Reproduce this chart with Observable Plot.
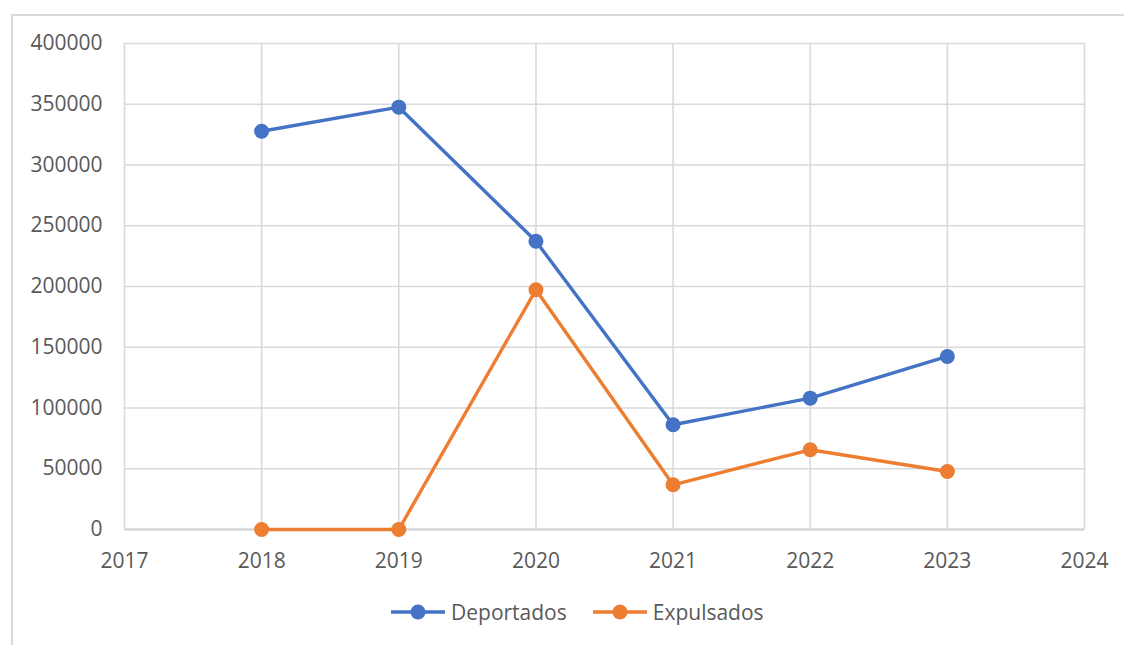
<!DOCTYPE html>
<html>
<head>
<meta charset="utf-8">
<script src="https://cdn.jsdelivr.net/npm/d3@7"></script>
<script src="https://cdn.jsdelivr.net/npm/@observablehq/plot@0.6"></script>
<style>
  html, body { margin: 0; padding: 0; background: #fff; }
  body { width: 1124px; height: 645px; overflow: hidden; position: relative; font-family: "Open Sans", "Liberation Sans", sans-serif; }
  #frame { position: absolute; left: 11px; top: 14px; width: 1113px; height: 640px; border-left: 2px solid #d9d9d9; border-top: 2px solid #d9d9d9; }
  #chart { position: absolute; left: 0; top: 0; }
  #legend { position: absolute; left: 0; top: 582px; width: 1111px; display: flex; justify-content: flex-start; gap: 25px; font-size: 21px; color: #595959; padding-left: 377px; box-sizing: border-box; }
  .item { display: flex; align-items: center; gap: 5px; }
</style>
</head>
<body>
<div id="frame">
  <div id="chart"></div>
  <div id="legend"></div>
</div>
<script>
const years = [2018, 2019, 2020, 2021, 2022, 2023];
const deportados = [327800, 347600, 237300, 86200, 108100, 142400];
const expulsados = [0, 0, 197300, 36800, 65600, 47700];
const seriesNames = ["Deportados", "Expulsados"];
const seriesColors = ["#4472C4", "#ED7D31"];
const xTicks = [2017, 2018, 2019, 2020, 2021, 2022, 2023, 2024];
const yTicks = [0, 50000, 100000, 150000, 200000, 250000, 300000, 350000, 400000];

const rows = [];
years.forEach((yr, i) => {
  rows.push({year: yr, value: deportados[i], series: seriesNames[0]});
  rows.push({year: yr, value: expulsados[i], series: seriesNames[1]});
});

const chart = Plot.plot({
  width: 1111,
  height: 560,
  marginLeft: 111,
  marginRight: 40,
  marginTop: 27,
  marginBottom: 47,
  style: {fontFamily: "'Open Sans', 'Liberation Sans', sans-serif", fontSize: "21px", color: "#595959", background: "#fff"},
  x: {domain: [2017, 2024], ticks: xTicks, tickFormat: d => String(d), tickSize: 0, tickPadding: 24, label: null},
  y: {domain: [0, 400000], ticks: yTicks, tickFormat: d => String(d), tickSize: 0, tickPadding: 22, label: null},
  color: {domain: seriesNames, range: seriesColors},
  marks: [
    Plot.gridX(xTicks, {stroke: "#d9d9d9", strokeOpacity: 1, strokeWidth: 1.6}),
    Plot.gridY(yTicks, {stroke: "#d9d9d9", strokeOpacity: 1, strokeWidth: 1.6}),
    Plot.ruleY([0], {stroke: "#d0d0d0", strokeWidth: 1.8}),
    Plot.axisX({ticks: xTicks, tickFormat: d => String(d), tickSize: 0, tickPadding: 24, fontSize: 21, fill: "#595959"}),
    Plot.axisY({ticks: yTicks, tickFormat: d => String(d), tickSize: 0, tickPadding: 22, fontSize: 21, fill: "#595959"}),
    Plot.line(rows, {x: "year", y: "value", z: "series", stroke: "series", strokeWidth: 3.4}),
    Plot.dot(rows, {x: "year", y: "value", fill: "series", r: 7.5, stroke: null})
  ]
});
document.getElementById("chart").appendChild(chart);

const legend = document.getElementById("legend");
seriesNames.forEach((name, i) => {
  const item = document.createElement("div");
  item.className = "item";
  item.innerHTML = `<svg width="56" height="20"><line x1="1" y1="10" x2="55" y2="10" stroke="${seriesColors[i]}" stroke-width="3.4"/><circle cx="28" cy="10" r="7.5" fill="${seriesColors[i]}"/></svg><span>${name}</span>`;
  legend.appendChild(item);
});
</script>
</body>
</html>
